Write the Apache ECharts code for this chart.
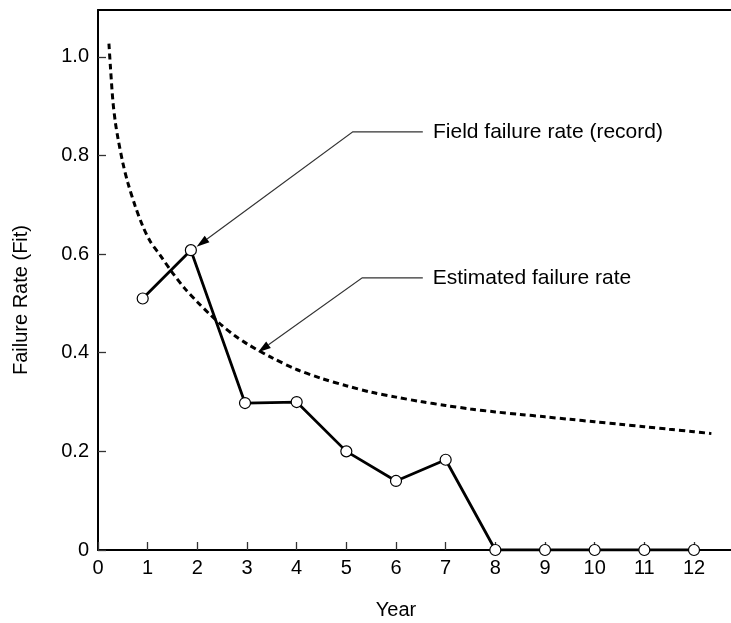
<!DOCTYPE html>
<html>
<head>
<meta charset="utf-8">
<script src="https://cdn.jsdelivr.net/npm/echarts@6/dist/echarts.min.js"></script>
<style>
  html, body { margin: 0; padding: 0; background: #fff; }
  #chart { width: 731px; height: 623px; }
</style>
</head>
<body>
<div id="chart"></div>
<script>
// Field record: failure rate per year of service
const recordYears = [0.9, 1.87, 2.96, 4, 5, 6, 7, 8, 9, 10, 11, 12];
const recordRate  = [0.51, 0.608, 0.298, 0.30, 0.20, 0.14, 0.183, 0, 0, 0, 0, 0];

// Estimated (model) failure rate curve
const estYears = [0.22, 0.25, 0.3, 0.35, 0.4, 0.5, 0.6, 0.75, 0.9, 1.05, 1.25, 1.5, 1.75, 2.0, 2.25, 2.5, 2.75, 3.0, 3.5, 4.0, 4.5, 5.0, 5.5, 6.0, 6.5, 7.0, 7.5, 8.0, 8.5, 9.0, 9.5, 10.0, 10.5, 11.0, 11.5, 12.0, 12.35];
const estRate  = [1.027, 0.98, 0.91, 0.867, 0.836, 0.785, 0.745, 0.697, 0.657, 0.626, 0.598, 0.562, 0.53, 0.503, 0.478, 0.455, 0.435, 0.418, 0.39, 0.366, 0.348, 0.333, 0.32, 0.31, 0.301, 0.293, 0.286, 0.28, 0.275, 0.27, 0.265, 0.26, 0.255, 0.25, 0.245, 0.24, 0.236];

// Axis ticks
const xTicks = [0, 1, 2, 3, 4, 5, 6, 7, 8, 9, 10, 11, 12];
const yTicks = [0, 0.2, 0.4, 0.6, 0.8, 1.0];

// Callout labels
const calloutText = ['Field failure rate (record)', 'Estimated failure rate'];

// Callout geometry in data units: arrow tip, elbow, end of horizontal leader, label start
const callouts = [
  { tip: [1.985, 0.615], elbow: [5.13, 0.848], end: [6.54, 0.848], label: [6.745, 0.848] },
  { tip: [3.22, 0.401],  elbow: [5.32, 0.552], end: [6.54, 0.552], label: [6.74, 0.552] }
];

const FONT = '"Liberation Sans", Arial, Helvetica, sans-serif';

const chart = echarts.init(document.getElementById('chart'), null, { renderer: 'canvas' });

const pair = (xs, ys) => xs.map((x, i) => [x, ys[i]]);

chart.setOption({
  animation: false,
  backgroundColor: '#fff',
  // The frame runs past the right edge of the page, so only top, left and bottom edges show
  grid: { left: 98, top: 10, width: 633, height: 540 },
  xAxis: [
    {
      type: 'value', min: 0, max: 12.745, interval: 1,
      axisLine: { show: true, lineStyle: { color: '#000', width: 2 } },
      axisTick: { show: true, inside: true, length: 8, lineStyle: { color: '#333', width: 1.3 } },
      axisLabel: {
        color: '#000', fontSize: 20, fontFamily: FONT, margin: 8,
        showMaxLabel: false,
        formatter: v => (xTicks.indexOf(v) >= 0 ? String(v) : '')
      },
      splitLine: { show: false }
    },
    {
      type: 'value', position: 'top', min: 0, max: 12.745,
      axisLine: { show: true, lineStyle: { color: '#000', width: 2 } },
      axisTick: { show: false }, axisLabel: { show: false }, splitLine: { show: false }
    }
  ],
  yAxis: {
    type: 'value', min: 0, max: 1.095, interval: 0.2,
    axisLine: { show: true, lineStyle: { color: '#000', width: 2 } },
    axisTick: { show: true, inside: true, length: 8, lineStyle: { color: '#333', width: 1.3 } },
    axisLabel: {
      color: '#000', fontSize: 20, fontFamily: FONT, margin: 9,
      showMaxLabel: false,
      formatter: v => {
        const t = yTicks.find(k => Math.abs(k - v) < 1e-6);
        if (t === undefined) return '';
        return t === 0 ? '0' : t.toFixed(1);
      }
    },
    splitLine: { show: false }
  },
  series: [
    {
      name: 'Estimated failure rate',
      type: 'line',
      data: pair(estYears, estRate),
      smooth: 0.3,
      showSymbol: false,
      lineStyle: { color: '#000', width: 3, type: [6, 4], cap: 'butt' },
      z: 2
    },
    {
      name: 'Field failure rate (record)',
      type: 'line',
      data: pair(recordYears, recordRate),
      symbol: 'circle',
      symbolSize: 11,
      showAllSymbol: true,
      lineStyle: { color: '#000', width: 2.8 },
      itemStyle: { color: '#fff', borderColor: '#000', borderWidth: 1.2 },
      z: 3
    }
  ]
});

// Callout arrows and labels, placed through the chart's own coordinate conversion
function px(p) { return chart.convertToPixel({ gridIndex: 0 }, p); }

const graphics = [];
callouts.forEach((c, i) => {
  const tip = px(c.tip), elbow = px(c.elbow), end = px(c.end), lab = px(c.label);
  const dx = tip[0] - elbow[0], dy = tip[1] - elbow[1];
  const len = Math.hypot(dx, dy);
  const ux = dx / len, uy = dy / len;
  const headLen = 13, headHalf = 4;
  const bx = tip[0] - ux * headLen, by = tip[1] - uy * headLen;
  graphics.push({
    type: 'polyline',
    shape: { points: [end, elbow, [bx, by]] },
    style: { stroke: '#333', lineWidth: 1.2, fill: null },
    z: 10
  });
  graphics.push({
    type: 'polygon',
    shape: { points: [tip, [bx - uy * headHalf, by + ux * headHalf], [bx + uy * headHalf, by - ux * headHalf]] },
    style: { fill: '#000' },
    z: 10
  });
  graphics.push({
    type: 'text',
    x: lab[0], y: lab[1],
    style: { text: calloutText[i], fill: '#000', font: '21px ' + FONT, verticalAlign: 'middle' },
    z: 10
  });
});

// Axis titles
graphics.push({
  type: 'text', x: 396, y: 610,
  style: { text: 'Year', fill: '#000', font: '20px ' + FONT, align: 'center', verticalAlign: 'middle' }
});
graphics.push({
  type: 'text', x: 21, y: 300, rotation: Math.PI / 2,
  style: { text: 'Failure Rate (Fit)', fill: '#000', font: '20px ' + FONT, align: 'center', verticalAlign: 'middle' }
});

chart.setOption({ graphic: { elements: graphics } });
</script>
</body>
</html>
